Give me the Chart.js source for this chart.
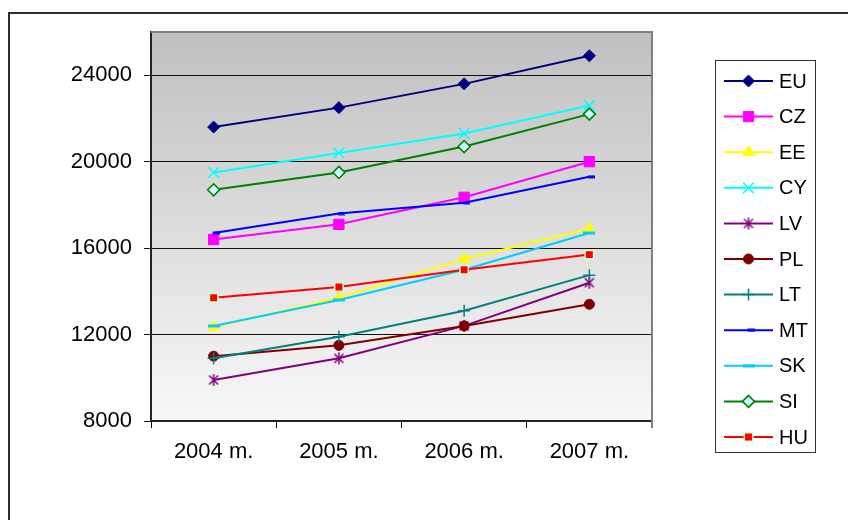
<!DOCTYPE html>
<html>
<head>
<meta charset="utf-8">
<script src="https://cdn.jsdelivr.net/npm/chart.js@4"></script>
<style>
  html, body { margin: 0; padding: 0; background: #ffffff; }
  #wrap { position: relative; width: 848px; height: 520px; overflow: hidden; }
  canvas { display: block; }
</style>
</head>
<body>
<div id="wrap"><canvas id="c" width="848" height="520"></canvas></div>
<script>
// Categories (years) and series values
const categories = ['2004 m.', '2005 m.', '2006 m.', '2007 m.'];
const seriesNames = ['EU', 'CZ', 'EE', 'CY', 'LV', 'PL', 'LT', 'MT', 'SK', 'SI', 'HU'];

const EU = [21600, 22500, 23600, 24900];
const CZ = [16400, 17100, 18350, 20000];
const EE = [12350, 13700, 15500, 16900];
const CY = [19500, 20400, 21300, 22600];
const LV = [9900, 10900, 12400, 14400];
const PL = [11000, 11500, 12400, 13400];
const LT = [10900, 11900, 13100, 14750];
const MT = [16700, 17600, 18100, 19300];
const SK = [12400, 13600, 15000, 16700];
const SI = [18700, 19500, 20700, 22200];
const HU = [13700, 14200, 15000, 15700];

const yTicks = [8000, 12000, 16000, 20000, 24000];
const yMin = 8000, yMax = 26000;

const FONT = '"Liberation Sans", Arial, sans-serif';

// Custom marker images
function makeCanvas(w, h, draw) {
  const c = document.createElement('canvas');
  c.width = w; c.height = h;
  draw(c.getContext('2d'));
  return c;
}
const asteriskMarker = makeCanvas(14, 14, g => {
  g.strokeStyle = '#800080'; g.lineWidth = 1.5;
  g.beginPath();
  g.moveTo(7, 1); g.lineTo(7, 13);
  g.moveTo(2.5, 2.5); g.lineTo(11.5, 11.5);
  g.moveTo(11.5, 2.5); g.lineTo(2.5, 11.5);
  g.stroke();
});
const mtMarker = makeCanvas(12, 4, g => {
  g.fillStyle = '#0000FF'; g.fillRect(5, 0.5, 7, 3);
});
const skMarker = makeCanvas(12, 4, g => {
  g.fillStyle = '#00CCFF'; g.fillRect(0, 0.5, 12, 3);
});

const styles = {
  EU: { color: '#000080', pointStyle: 'rectRot', radius: 6, fill: '#000080', border: '#000080', bw: 1 },
  CZ: { color: '#FF00FF', pointStyle: 'rect', radius: 7.3, fill: '#FF00FF', border: '#FF00FF', bw: 1 },
  EE: { color: '#FFFF00', pointStyle: 'triangle', radius: 6.5, fill: '#FFFF00', border: '#FFFF00', bw: 1 },
  CY: { color: '#00FFFF', pointStyle: 'crossRot', radius: 7.5, fill: '#00FFFF', border: '#00FFFF', bw: 1.5 },
  LV: { color: '#800080', pointStyle: asteriskMarker, radius: 6, fill: '#800080', border: '#800080', bw: 1.5 },
  PL: { color: '#800000', pointStyle: 'circle', radius: 5, fill: '#800000', border: '#800000', bw: 1 },
  LT: { color: '#008080', pointStyle: 'cross', radius: 6, fill: '#008080', border: '#008080', bw: 1.5 },
  MT: { color: '#0000FF', pointStyle: mtMarker, radius: 4, fill: '#0000FF', border: '#0000FF', bw: 1 },
  SK: { color: '#00CCFF', pointStyle: skMarker, radius: 4, fill: '#00CCFF', border: '#00CCFF', bw: 1 },
  SI: { color: '#008000', pointStyle: 'rectRot', radius: 6, fill: '#CCFFFF', border: '#008000', bw: 1.6 },
  HU: { color: '#FF0000', pointStyle: 'rect', radius: 6, fill: '#FF0000', border: '#CCFFCC', bw: 1.6 }
};

const values = { EU, CZ, EE, CY, LV, PL, LT, MT, SK, SI, HU };

const datasets = seriesNames.map((name, i) => {
  const s = styles[name];
  return {
    label: name,
    data: values[name],
    borderColor: s.color,
    backgroundColor: s.fill,
    borderWidth: 2,
    tension: 0,
    pointStyle: s.pointStyle,
    pointRadius: s.radius,
    pointBackgroundColor: s.fill,
    pointBorderColor: s.border,
    pointBorderWidth: s.bw,
    order: seriesNames.length - i
  };
});

// Frame, plot background and plot border
const framePlugin = {
  id: 'frame',
  beforeDraw(chart) {
    const { ctx, chartArea: a } = chart;
    ctx.save();
    ctx.fillStyle = '#ffffff';
    ctx.fillRect(0, 0, chart.width, chart.height);
    ctx.strokeStyle = '#2e2e2e';
    ctx.lineWidth = 2;
    ctx.beginPath();
    ctx.moveTo(9, chart.height + 5);
    ctx.lineTo(9, 13);
    ctx.lineTo(chart.width + 5, 13);
    ctx.stroke();
    const g = ctx.createLinearGradient(0, a.top, 0, a.bottom);
    g.addColorStop(0, '#C0C0C0');
    g.addColorStop(1, '#F8F8F8');
    ctx.fillStyle = g;
    ctx.fillRect(a.left, a.top, a.right - a.left, a.bottom - a.top);
    ctx.restore();
  },
  beforeDatasetsDraw(chart) {
    const { ctx, chartArea: a } = chart;
    ctx.save();
    ctx.strokeStyle = '#808080';
    ctx.lineWidth = 2;
    ctx.beginPath();
    ctx.moveTo(a.left, a.top);
    ctx.lineTo(a.right, a.top);
    ctx.lineTo(a.right, a.bottom + 7);
    ctx.stroke();
    ctx.restore();
  }
};

// Legend box with line samples and markers
const legendPlugin = {
  id: 'sideLegend',
  afterDraw(chart) {
    const ctx = chart.ctx;
    const box = { x: 715.5, y: 60.5, w: 100, h: 392 };
    ctx.save();
    ctx.fillStyle = '#ffffff';
    ctx.fillRect(box.x, box.y, box.w, box.h);
    ctx.strokeStyle = '#333333';
    ctx.lineWidth = 1;
    ctx.strokeRect(box.x, box.y, box.w, box.h);
    const step = 35.6;
    seriesNames.forEach((name, i) => {
      const s = styles[name];
      const y = 81 + i * step;
      ctx.strokeStyle = s.color;
      ctx.lineWidth = 2;
      ctx.beginPath();
      ctx.moveTo(724, y);
      ctx.lineTo(773, y);
      ctx.stroke();
      ctx.fillStyle = s.fill;
      ctx.strokeStyle = s.border;
      ctx.lineWidth = s.bw;
      Chart.helpers.drawPoint(ctx, {
        pointStyle: s.pointStyle, radius: s.radius, rotation: 0, borderWidth: s.bw
      }, 748.5, y);
      ctx.fillStyle = '#000000';
      ctx.font = '20px ' + FONT;
      ctx.textAlign = 'left';
      ctx.textBaseline = 'middle';
      ctx.fillText(name, 779, y + 1);
    });
    ctx.restore();
  }
};

new Chart(document.getElementById('c'), {
  type: 'line',
  data: { labels: categories, datasets },
  plugins: [framePlugin, legendPlugin],
  options: {
    responsive: false,
    animation: false,
    devicePixelRatio: 1,
    layout: { padding: { top: 32, right: 196, left: 0, bottom: 0 } },
    plugins: { legend: { display: false }, tooltip: { enabled: false } },
    scales: {
      x: {
        offset: true,
        afterFit(scale) { scale.height = 99; },
        grid: {
          offset: true,
          drawOnChartArea: false,
          drawTicks: true,
          tickLength: 7,
          color: '#000000',
          lineWidth: 1
        },
        border: { display: true, color: '#222222', width: 2 },
        ticks: {
          color: '#000000',
          font: { family: FONT, size: 22 },
          padding: 11,
          maxRotation: 0
        }
      },
      y: {
        min: yMin,
        max: yMax,
        afterFit(scale) { scale.width = 151; },
        afterBuildTicks(scale) { scale.ticks = yTicks.map(v => ({ value: v })); },
        grid: {
          drawOnChartArea: true,
          drawTicks: true,
          tickLength: 7,
          color: '#111111',
          lineWidth: 1
        },
        border: { display: true, color: '#222222', width: 2 },
        ticks: {
          color: '#000000',
          font: { family: FONT, size: 22 },
          padding: 12,
          callback: v => String(v)
        }
      }
    }
  }
});
</script>
</body>
</html>
